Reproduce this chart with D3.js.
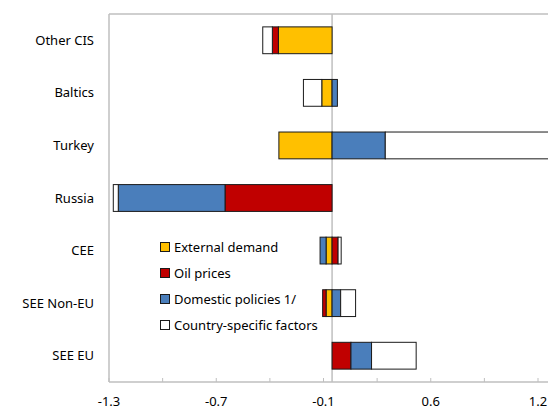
<!DOCTYPE html>
<html>
<head>
<meta charset="utf-8">
<script src="https://cdn.jsdelivr.net/npm/d3@7"></script>
<style>
  body { margin: 0; background: #fff; }
  svg text { font-family: "Noto Sans", "Open Sans", sans-serif; fill: #000; }
</style>
</head>
<body>
<div id="chart"></div>
<script>
// regions top to bottom
const regions = ['Other CIS', 'Baltics', 'Turkey', 'Russia', 'CEE', 'SEE Non-EU', 'SEE EU'];
const seriesNames = ['External demand', 'Oil prices', 'Domestic policies 1/', 'Country-specific factors'];
const externalDemand = [-0.313, -0.06, -0.31, 0, -0.035, -0.035, 0];
const oilPrices = [-0.035, 0, 0, -0.624, 0.035, -0.02, 0.11];
const domesticPolicies = [0, 0.031, 0.31, -0.622, -0.035, 0.05, 0.12];
const countryFactors = [-0.056, -0.107, 1.0, -0.029, 0.018, 0.087, 0.26];
const colors = ['#FFC000', '#C00000', '#4A7EBB', '#FFFFFF'];
const tickLabels = ['-1.3', '-0.7', '-0.1', '0.6', '1.2'];

const width = 548, height = 412;
const margin = {top: 14, right: 10, bottom: 30, left: 109};

const svg = d3.select('#chart').append('svg')
  .attr('width', width).attr('height', height);

const x = d3.scaleLinear().domain([-1.3, 1.2]).range([margin.left, 538]);
const y = d3.scaleBand().domain(regions)
  .range([margin.top, height - margin.bottom])
  .paddingInner(0.49).paddingOuter(0.245);

const rows = regions.map((r, i) => ({
  region: r,
  s0: externalDemand[i], s1: oilPrices[i], s2: domesticPolicies[i], s3: countryFactors[i]
}));
const stack = d3.stack().keys(['s0', 's1', 's2', 's3']).offset(d3.stackOffsetDiverging);
const layers = stack(rows);

svg.append('clipPath').attr('id', 'clip')
  .append('rect').attr('x', 0).attr('y', 0).attr('width', width).attr('height', height);

// frame: top line and left axis
const axisColor = '#BFBFBF';
svg.append('line')
  .attr('x1', margin.left).attr('x2', width)
  .attr('y1', margin.top).attr('y2', margin.top)
  .attr('stroke', axisColor).attr('stroke-width', 1.5);
svg.append('line')
  .attr('x1', margin.left).attr('x2', margin.left)
  .attr('y1', margin.top).attr('y2', height - margin.bottom)
  .attr('stroke', axisColor).attr('stroke-width', 1.5);

// zero line
svg.append('line')
  .attr('x1', x(0)).attr('x2', x(0))
  .attr('y1', margin.top).attr('y2', height - margin.bottom)
  .attr('stroke', axisColor).attr('stroke-width', 1.5);

// bars
svg.append('g').attr('clip-path', 'url(#clip)')
  .selectAll('g')
  .data(layers)
  .join('g')
  .attr('fill', (d, i) => colors[i])
  .selectAll('rect')
  .data(d => d.filter(e => e[1] - e[0] !== 0))
  .join('rect')
  .attr('x', d => x(d[0]))
  .attr('width', d => x(d[1]) - x(d[0]))
  .attr('y', d => y(d.data.region))
  .attr('height', y.bandwidth())
  .attr('stroke', '#1a1a1a')
  .attr('stroke-width', 1);

// bottom axis
const ticks = d3.range(9).map(i => -1.3 + i * 2.5 / 8);
const xAxis = svg.append('g')
  .attr('transform', `translate(0,${height - margin.bottom})`);
xAxis.append('line')
  .attr('x1', margin.left).attr('x2', width)
  .attr('stroke', axisColor).attr('stroke-width', 1.5);
xAxis.selectAll('.tick')
  .data(ticks)
  .join('line')
  .attr('x1', d => x(d)).attr('x2', d => x(d))
  .attr('y1', 0).attr('y2', -4)
  .attr('stroke', axisColor).attr('stroke-width', 1);
xAxis.selectAll('text')
  .data(ticks.filter((d, i) => i % 2 === 0))
  .join('text')
  .attr('x', d => x(d))
  .attr('y', 24)
  .attr('text-anchor', 'middle')
  .style('font-size', '13px')
  .text((d, i) => tickLabels[i]);

// category labels
svg.append('g').selectAll('text')
  .data(regions)
  .join('text')
  .attr('x', 94)
  .attr('y', d => y(d) + y.bandwidth() / 2)
  .attr('dy', '0.35em')
  .attr('text-anchor', 'end')
  .style('font-size', '13px')
  .text(d => d);

// legend
const legend = svg.append('g').attr('transform', 'translate(160,247)');
const item = legend.selectAll('g')
  .data(seriesNames)
  .join('g')
  .attr('transform', (d, i) => `translate(0,${i * 26})`);
item.append('rect')
  .attr('x', 0.5).attr('y', -4.5)
  .attr('width', 9).attr('height', 9)
  .attr('fill', (d, i) => colors[i])
  .attr('stroke', '#1a1a1a').attr('stroke-width', 1);
item.append('text')
  .attr('x', 14).attr('y', 0)
  .attr('dy', '0.35em')
  .style('font-size', '13px')
  .text(d => d);
</script>
</body>
</html>
